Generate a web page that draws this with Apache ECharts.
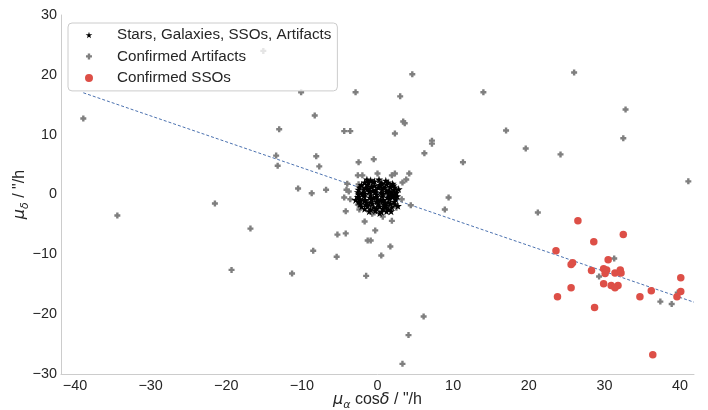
<!DOCTYPE html>
<html>
<head>
<meta charset="utf-8">
<script src="https://cdn.jsdelivr.net/npm/echarts@6/dist/echarts.min.js"></script>
<style>html,body{margin:0;padding:0;background:#fff;}#c{width:708px;height:410px;}</style>
</head>
<body>
<div id="c"></div>
<script>
// ---- data ----
const yTicks = [-30, -20, -10, 0, 10, 20, 30];
const xTicks = [-40, -30, -20, -10, 0, 10, 20, 30, 40];
const xRange = [-41.85, 41.85];

const starX = [-0.9,0.2,1.1,
 -1.7,-0.6,0.5,1.4,2.0,
 -2.1,-1.3,-0.4,0.4,1.2,2.1,
 -2.4,-1.6,-0.8,0.1,0.9,1.7,2.3,
 -2.5,-1.8,-1.0,-0.2,0.6,1.4,2.2,
 -2.6,-1.9,-1.1,-0.3,0.5,1.2,1.9,2.5,
 -2.5,-1.7,-0.9,-0.1,0.7,1.5,2.3,
 -2.6,-1.8,-1.0,-0.2,0.6,1.3,2.0,2.6,
 -2.4,-1.6,-0.8,0.0,0.8,1.6,2.4,
 -2.5,-1.7,-0.9,-0.1,0.7,1.4,2.2,
 -2.3,-1.5,-0.7,0.1,0.9,1.7,2.3,
 -2.1,-1.3,-0.5,0.3,1.1,1.9,
 -1.7,-0.9,-0.1,0.7,1.5,
 -1.1,-0.3,0.5,1.2,
 -2.9,2.8,-1.4,1.8,0.3,2.7,
 -0.4,0.6,-1.3,1.6,-2.0,2.1,-0.5,0.4,-1.4,1.0,-2.2,1.8,-0.6,0.3,-1.2,1.1];
const starY = [2.4,2.5,2.3,
 2.0,2.1,1.9,2.0,1.8,
 1.6,1.7,1.5,1.6,1.7,1.5,
 1.2,1.1,1.3,1.2,1.1,1.3,1.2,
 0.8,0.9,0.7,0.8,0.9,0.7,0.8,
 0.4,0.3,0.5,0.4,0.3,0.5,0.4,0.3,
 0.0,0.1,-0.1,0.0,0.1,-0.1,0.0,
 -0.4,-0.3,-0.5,-0.4,-0.3,-0.5,-0.4,-0.3,
 -0.8,-0.9,-0.7,-0.8,-0.9,-0.7,-0.8,
 -1.2,-1.1,-1.3,-1.2,-1.1,-1.3,-1.2,
 -1.6,-1.7,-1.5,-1.6,-1.7,-1.5,-1.6,
 -2.0,-1.9,-2.1,-2.0,-1.9,-2.1,
 -2.4,-2.5,-2.3,-2.4,-2.5,
 -2.8,-2.7,-2.9,-2.8,
 -0.9,0.9,2.5,-2.8,-3.1,-1.9,
 2.2,1.8,1.0,0.5,0.1,-0.2,-0.6,-1.0,-1.4,-1.4,-1.0,-0.1,0.6,1.4,2.0,-2.2];

const artX = [-38.9,-15.1,-13.0,-13.4,-13.2,-34.4,-21.5,-16.8,-19.3,4.6,-10.1,-2.9,3.0,-8.3,-4.4,-3.6,3.4,3.6,2.3,7.2,7.2,6.2,-8.1,-7.7,-2.5,-0.5,11.3,-2.6,-2.0,0.0,1.9,2.3,4.2,3.8,3.3,-4.0,-10.5,-8.7,-6.8,-4.1,-2.5,-4.4,-3.6,-3.8,9.4,8.9,4.4,2.5,3.2,-4.2,-2.6,-2.4,-0.7,-0.4,0.7,1.9,-1.7,-0.3,-5.3,-4.2,-1.3,-0.9,-8.5,-5.4,1.7,0.5,-11.3,-1.5,6.1,4.1,3.3,26.0,14.0,32.8,17.0,32.5,19.6,24.2,41.1,21.2,31.3,29.3,37.4,38.9,39.7];
const artY = [12.7,24.0,10.9,6.5,4.8,-3.5,-1.5,-5.7,-12.6,20.1,17.1,17.1,16.4,13.2,10.6,10.6,12.2,11.9,10.2,9.0,8.5,6.9,6.4,4.7,5.4,5.9,5.4,3.2,3.2,3.5,3.2,3.5,3.5,2.5,2.0,1.8,1.0,0.2,0.8,0.8,1.7,-0.5,-0.8,0.5,-0.5,-2.5,-1.8,-2.2,-0.8,-2.8,-1.7,-2.5,-3.2,-3.0,-3.7,-4.4,-4.5,-6.0,-6.7,-6.5,-7.7,-7.7,-9.4,-10.4,-8.7,-10.2,-13.2,-13.6,-20.4,-23.5,-28.3,20.4,17.1,14.2,10.7,9.4,7.7,6.7,2.2,-3.0,-10.7,-13.7,-17.9,-18.3,-16.4];

const ssoX = [26.5,32.5,28.6,23.6,30.5,25.8,25.6,28.3,29.9,30.3,30.1,31.4,32.1,32.2,29.9,30.9,31.8,31.4,25.6,23.8,34.7,36.2,28.7,40.1,40.1,39.6,36.4];
const ssoY = [-4.4,-6.7,-7.9,-9.4,-10.9,-11.4,-11.7,-12.7,-12.4,-12.6,-13.2,-13.1,-12.6,-13.1,-14.9,-15.2,-15.2,-15.6,-15.6,-17.1,-17.1,-16.1,-18.9,-13.9,-16.2,-17.1,-26.8];

const fitX = [-38.9, 41.85];
const fitY = [17.0, -18.0];

const names = ['Stars, Galaxies, SSOs, Artifacts', 'Confirmed Artifacts', 'Confirmed SSOs'];

// ---- chart ----
const zip = (a, b) => a.map((v, i) => [v, b[i]]);
const FONT = '"Liberation Sans", Arial, sans-serif';
const MATH = '"DejaVu Sans", sans-serif';
const STAR = 'path://M50,0 L61,35 L98,35 L68,57 L79,91 L50,70 L21,91 L32,57 L2,35 L39,35 Z';
const PLUS = 'path://M3,0 H7 V3 H10 V7 H7 V10 H3 V7 H0 V3 H3 Z';
// legend icons: invisible corner points set a 40:16 box so the mark sits at a fixed spot
const STAR_LEG = 'path://M-193,-69 L-193,-69 Z M379,159 L379,159 Z M50,0 L61,35 L98,35 L68,57 L79,91 L50,70 L21,91 L32,57 L2,35 L39,35 Z';
const PLUS_LEG = 'path://M-23.3,-8.3 L-23.3,-8.3 Z M43.4,18.3 L43.4,18.3 Z M3,0 H7 V3 H10 V7 H7 V10 H3 V7 H0 V3 H3 Z';
const CIRC_LEG = 'path://M-17,-8 L-17,-8 Z M23,8 L23,8 Z M-4,0 A4,4 0 1,0 4,0 A4,4 0 1,0 -4,0 Z';

const fmt = v => Math.abs(v - Math.round(v / 10) * 10) < 1e-6 ? String(Math.round(v)).replace('-', '\u2212') : '';

const rich = {
  i: {fontFamily: MATH, fontStyle: 'italic', fontSize: 16, color: '#262626', lineHeight: 22},
  s: {fontFamily: MATH, fontStyle: 'italic', fontSize: 11, color: '#262626', lineHeight: 10, verticalAlign: 'bottom'},
  n: {fontFamily: FONT, fontSize: 16, color: '#262626', lineHeight: 22}
};

const chart = echarts.init(document.getElementById('c'), null, {renderer: 'canvas'});
chart.setOption({
  animation: false,
  backgroundColor: '#ffffff',
  grid: {left: 61, right: 14, top: 15, bottom: 36, containLabel: false, outerBoundsMode: 'none'},
  legend: {
    left: 68, top: 23, orient: 'vertical',
    data: [
      {name: names[0], icon: STAR_LEG},
      {name: names[1], icon: PLUS_LEG},
      {name: names[2], icon: CIRC_LEG}
    ],
    itemWidth: 40, itemHeight: 16, itemGap: 5.5,
    padding: [4, 6, 5, 4],
    backgroundColor: 'rgba(255,255,255,0.8)',
    borderColor: '#cccccc', borderWidth: 1, borderRadius: 4,
    textStyle: {fontFamily: FONT, fontSize: 15.2, color: '#262626'}
  },
  xAxis: {
    type: 'value', min: xRange[0], max: xRange[1],
    splitNumber: 8, minInterval: 10, maxInterval: 10,
    axisLine: {show: true, onZero: false, lineStyle: {color: '#cccccc', width: 1}},
    axisTick: {show: false}, splitLine: {show: false},
    axisLabel: {formatter: fmt, color: '#262626', fontSize: 14.4, fontFamily: FONT, margin: 5},
    name: '{i|\u03bc}{s|\u03b1}{n| cos}{i|\u03b4}{n| / "/h}',
    nameLocation: 'middle', nameGap: 15, nameMoveOverlap: false,
    nameTextStyle: {rich: rich}
  },
  yAxis: {
    type: 'value', min: yTicks[0], max: yTicks[yTicks.length - 1], interval: 10,
    axisLine: {show: true, onZero: false, lineStyle: {color: '#cccccc', width: 1}},
    axisTick: {show: false}, splitLine: {show: false},
    axisLabel: {formatter: fmt, color: '#262626', fontSize: 14.4, fontFamily: FONT, margin: 4},
    name: '{i|\u03bc}{s|\u03b4}{n| / "/h}',
    nameLocation: 'middle', nameGap: 30, nameRotate: 90, nameMoveOverlap: false,
    nameTextStyle: {rich: rich}
  },
  series: [
    {
      type: 'line', data: zip(fitX, fitY), symbol: 'none', silent: true, z: 1,
      lineStyle: {color: '#4c72b0', width: 1, type: [3, 2]}
    },
    {
      name: names[0], type: 'scatter', data: zip(starX, starY),
      symbol: STAR, symbolSize: 8, z: 3,
      itemStyle: {color: '#000000', opacity: 1}
    },
    {
      name: names[1], type: 'scatter', data: zip(artX, artY),
      symbol: PLUS, symbolSize: 6, z: 2,
      itemStyle: {color: '#7f7f7f', opacity: 1}
    },
    {
      name: names[2], type: 'scatter', data: zip(ssoX, ssoY),
      symbol: 'circle', symbolSize: 7.5, z: 4,
      itemStyle: {color: '#dd4f47', opacity: 1}
    }
  ]
});
</script>
</body>
</html>
